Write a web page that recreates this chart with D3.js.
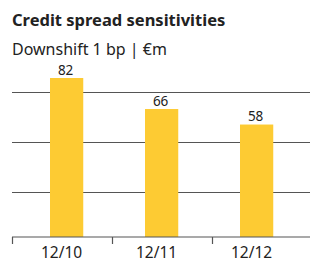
<!DOCTYPE html>
<html>
<head>
<meta charset="utf-8">
<script src="https://cdn.jsdelivr.net/npm/d3@7"></script>
<style>
  body { margin: 0; background: #fff; }
  text { font-family: 'Noto Sans', sans-serif; fill: #222; }
</style>
</head>
<body>
<div id="chart"></div>
<script>
const categories = ['12/10', '12/11', '12/12'];
const values = [82, 66, 58];
const gridValues = [23, 49, 75];

const width = 310;
const height = 273;

const svg = d3
  .select('#chart')
  .append('svg')
  .attr('width', width)
  .attr('height', height);

// Title and subtitle
svg
  .append('text')
  .attr('x', 12)
  .attr('y', 26)
  .style('font-weight', 'bold')
  .style('font-size', '16.5px')
  .text('Credit spread sensitivities');

svg
  .append('text')
  .attr('x', 12)
  .attr('y', 54.5)
  .style('font-size', '16px')
  .text('Downshift 1 bp | €m');

// Scales
const y = d3.scaleLinear().domain([0, 82]).range([237, 78]);

const xBar = d3
  .scaleBand()
  .domain(categories)
  .range([50, 273.25])
  .paddingInner(0.65)
  .paddingOuter(0);

const xAxis = d3.scaleBand().domain(categories).range([12, 312]);

// Gridlines
svg
  .selectAll('.grid')
  .data(gridValues)
  .enter()
  .append('line')
  .attr('class', 'grid')
  .attr('x1', 12)
  .attr('x2', 310)
  .attr('y1', (d) => Math.round(y(d)) + 0.5)
  .attr('y2', (d) => Math.round(y(d)) + 0.5)
  .attr('stroke', '#555')
  .attr('stroke-width', 1.2);

// Bars
svg
  .selectAll('.bar')
  .data(values)
  .enter()
  .append('rect')
  .attr('class', 'bar')
  .attr('x', (d, i) => xBar(categories[i]))
  .attr('y', (d) => y(d))
  .attr('width', xBar.bandwidth())
  .attr('height', (d) => y(0) - y(d))
  .attr('fill', '#FDCB33');

// Value labels
svg
  .selectAll('.val')
  .data(values)
  .enter()
  .append('text')
  .attr('class', 'val')
  .attr('x', (d, i) => xBar(categories[i]) + xBar.bandwidth() / 2 - 1)
  .attr('y', (d) => y(d) - 3.5)
  .attr('text-anchor', 'middle')
  .style('font-size', '13.5px')
  .text((d) => d);

// Axis line and ticks
svg
  .append('line')
  .attr('x1', 12)
  .attr('x2', 310)
  .attr('y1', 237)
  .attr('y2', 237)
  .attr('stroke', '#555')
  .attr('stroke-width', 1.2);

svg
  .selectAll('.tick')
  .data(categories)
  .enter()
  .append('line')
  .attr('class', 'tick')
  .attr('x1', (d) => Math.round(xAxis(d)) + 0.5)
  .attr('x2', (d) => Math.round(xAxis(d)) + 0.5)
  .attr('y1', 237)
  .attr('y2', 244)
  .attr('stroke', '#555')
  .attr('stroke-width', 1.2);

svg
  .selectAll('.cat')
  .data(categories)
  .enter()
  .append('text')
  .attr('class', 'cat')
  .attr('x', (d) => xBar(d) + xBar.bandwidth() / 2 - 5)
  .attr('y', 258)
  .attr('text-anchor', 'middle')
  .style('font-size', '15.5px')
  .text((d) => d);
</script>
</body>
</html>
